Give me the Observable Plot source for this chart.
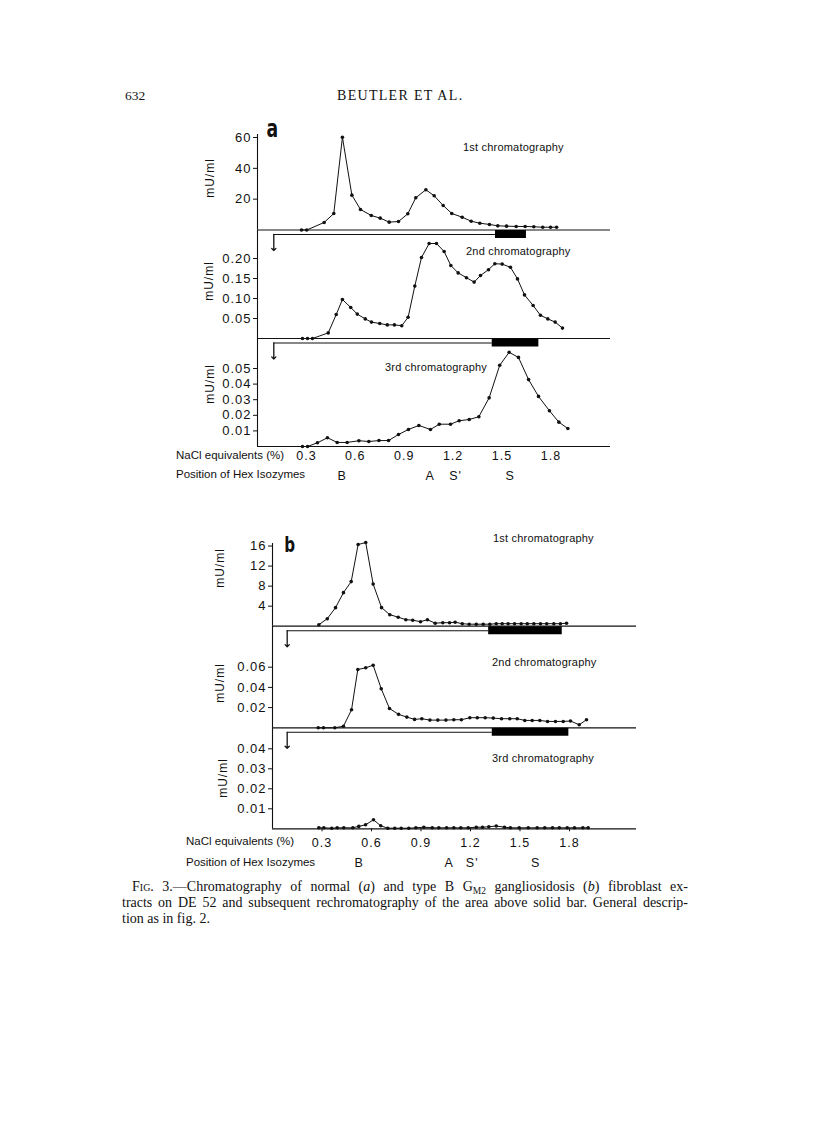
<!DOCTYPE html>
<html><head><meta charset="utf-8">
<script src="https://cdn.jsdelivr.net/npm/d3@7"></script>
<script src="https://cdn.jsdelivr.net/npm/@observablehq/plot@0.6"></script>
<style>
html,body{margin:0;padding:0;background:#fff;}
body{width:816px;height:1122px;position:relative;overflow:hidden;}
.t{position:absolute;white-space:nowrap;line-height:1;color:#111;}
.sans{font-family:"Liberation Sans",Arial,sans-serif;}
.serif{font-family:"Liberation Serif","Times New Roman",serif;}
.cap{position:absolute;left:122px;width:566px;font-family:"Liberation Serif","Times New Roman",serif;font-size:14px;line-height:1;color:#111;white-space:nowrap;text-align:justify;text-align-last:justify;}
#plots svg{position:absolute;left:0;top:0;}
</style></head><body>
<div id="plots"></div>
<script>
// ---------- DATA ----------
// Panel a: normal fibroblasts
const a1_nacl = [0.270,0.302,0.409,0.468,0.521,0.579,0.632,0.698,0.753,0.808,0.865,0.922,0.971,1.033,1.084,1.139,1.192,1.256,1.311,1.364,1.423,1.474,1.528,1.587,1.642,1.695,1.750,1.798,1.835];
const a1_mU   = [0,0,4.9,10.7,60.2,22.6,13.3,9.4,7.7,5.1,5.5,10.5,20.9,26.1,22.2,15.9,10.7,8.3,5.7,4.4,3.6,2.7,2.5,2.3,2.3,2.1,1.8,1.8,1.8];
const a2_nacl = [0.276,0.307,0.337,0.434,0.483,0.521,0.572,0.612,0.661,0.699,0.750,0.796,0.840,0.885,0.924,0.965,1.006,1.053,1.098,1.145,1.186,1.231,1.282,1.329,1.368,1.417,1.456,1.501,1.552,1.595,1.638,1.691,1.736,1.781,1.826,1.871];
const a2_mU   = [0,0,0,0.014,0.060,0.0975,0.0775,0.061,0.049,0.041,0.0375,0.034,0.034,0.032,0.053,0.131,0.2025,0.2375,0.2375,0.2175,0.1825,0.164,0.152,0.141,0.1575,0.172,0.187,0.186,0.178,0.149,0.109,0.0825,0.058,0.049,0.041,0.026];
const a3_nacl = [0.276,0.307,0.368,0.429,0.489,0.550,0.622,0.683,0.745,0.804,0.865,0.926,0.990,1.061,1.115,1.184,1.237,1.299,1.358,1.421,1.486,1.544,1.601,1.663,1.724,1.791,1.849,1.904];
const a3_mU   = [0,0,0.0024,0.0056,0.0026,0.0026,0.0037,0.0032,0.0038,0.0038,0.0077,0.0109,0.0135,0.0109,0.0143,0.0143,0.0165,0.0173,0.0191,0.0312,0.0521,0.0604,0.0571,0.0429,0.0321,0.0229,0.0156,0.0115];
// Panel b: type B GM2 gangliosidosis fibroblasts
const b1_nacl = [0.281,0.332,0.382,0.430,0.477,0.519,0.565,0.610,0.661,0.711,0.762,0.808,0.850,0.897,0.939,0.986,1.032,1.073,1.107,1.150,1.192,1.235,1.277,1.317,1.356,1.392,1.428,1.467,1.507,1.544,1.584,1.624,1.662,1.705,1.745,1.782];
const b1_mU   = [0.3,1.5,3.7,6.7,8.9,16.3,16.7,8.4,3.7,2.3,1.8,1.3,1.2,0.9,1.3,0.6,0.7,0.7,0.8,0.5,0.4,0.4,0.4,0.4,0.5,0.5,0.5,0.5,0.5,0.5,0.5,0.5,0.5,0.5,0.5,0.6];
const b2_nacl = [0.277,0.309,0.378,0.430,0.479,0.517,0.565,0.610,0.659,0.709,0.764,0.814,0.861,0.905,0.954,1.002,1.051,1.099,1.145,1.196,1.241,1.289,1.338,1.388,1.438,1.483,1.529,1.574,1.620,1.667,1.715,1.762,1.806,1.859,1.903];
const b2_mU   = [0,0,0,0.0016,0.0178,0.0577,0.0594,0.062,0.0386,0.0191,0.0133,0.0106,0.0083,0.009,0.0076,0.0076,0.0076,0.008,0.008,0.010,0.010,0.010,0.0096,0.009,0.009,0.009,0.0073,0.0073,0.0073,0.0063,0.0063,0.0063,0.0067,0.003,0.008];
const b3_nacl = [0.281,0.311,0.359,0.392,0.432,0.487,0.523,0.564,0.612,0.656,0.699,0.741,0.780,0.826,0.869,0.917,0.968,1.008,1.055,1.099,1.141,1.186,1.235,1.273,1.311,1.356,1.406,1.442,1.495,1.550,1.604,1.650,1.697,1.738,1.786,1.830,1.881,1.913];
const b3_mU   = [0.0005,0.0005,0.0003,0.0005,0.0005,0.0005,0.0012,0.002,0.0045,0.0015,0.0003,0.0003,0.0003,0.0003,0.0005,0.0008,0.0005,0.0005,0.0005,0.0005,0.0005,0.0005,0.0008,0.0008,0.001,0.0014,0.0008,0.0005,0.0005,0.0005,0.0005,0.0005,0.0005,0.0005,0.0005,0.0005,0.0005,0.0005];

// solid bars (area rechromatographed), NaCl %
const a1_bar = [1.46, 1.65];
const a2_bar = [1.44, 1.726];
const b1_bar = [1.31, 1.756];
const b2_bar = [1.332, 1.796];

// tick values
const a1_ticks = [20, 40, 60];
const a2_ticks = [0.05, 0.10, 0.15, 0.20];
const a3_ticks = [0.01, 0.02, 0.03, 0.04, 0.05];
const b1_ticks = [4, 8, 12, 16];
const b2_ticks = [0.02, 0.04, 0.06];
const b3_ticks = [0.01, 0.02, 0.03, 0.04];
const nacl_ticks = [0.3, 0.6, 0.9, 1.2, 1.5, 1.8];

// isozyme positions (NaCl %)
const iso_labels = ["B", "A", "S'", "S"];
const iso_a = [0.52, 1.06, 1.215, 1.55];
const iso_b = [0.525, 1.07, 1.21, 1.595];

// ---------- LAYOUT ----------
const FONT = '"Liberation Sans", Arial, sans-serif';
const figA = {axis: 257, right: 610, xmax: 2.1656, arrowX: 0.10};
const figB = {axis: 272, right: 636, xmax: 2.206, arrowX: 0.089};

const panels = [
  {fig: figA, nacl: a1_nacl, mU: a1_mU, ticks: a1_ticks, fmt: d3.format("d"),   top: 134,   base: 229.5, ymax: 61.95,   bar: a1_bar},
  {fig: figA, nacl: a2_nacl, mU: a2_mU, ticks: a2_ticks, fmt: d3.format(".2f"), top: 229.5, base: 338,   ymax: 0.27125, bar: a2_bar},
  {fig: figA, nacl: a3_nacl, mU: a3_mU, ticks: a3_ticks, fmt: d3.format(".2f"), top: 338,   base: 446,   ymax: 0.06923, bottom: true, iso: iso_a, isoDy: 29, tickSize: 0, tickPad: 5},
  {fig: figB, nacl: b1_nacl, mU: b1_mU, ticks: b1_ticks, fmt: d3.format("d"),   top: 543,   base: 625.7, ymax: 16.507,  bar: b1_bar},
  {fig: figB, nacl: b2_nacl, mU: b2_mU, ticks: b2_ticks, fmt: d3.format(".2f"), top: 625.7, base: 727.3, ymax: 0.10059, bar: b2_bar},
  {fig: figB, nacl: b3_nacl, mU: b3_mU, ticks: b3_ticks, fmt: d3.format(".2f"), top: 727.3, base: 828.3, ymax: 0.0505,  bottom: true, iso: iso_b, isoDy: 34, tickSize: 3, tickPad: 6}
];

const host = document.getElementById("plots");
for (const p of panels) {
  const rows = p.nacl.map((x, i) => ({x, y: p.mU[i]}));
  const marks = [
    Plot.ruleX([0], {stroke: "#111", strokeWidth: 1.1}),
    Plot.ruleY([0], {stroke: "#111", strokeWidth: 1.2}),
    Plot.axisY({ticks: p.ticks, tickFormat: p.fmt, tickSize: 4, tickPadding: 2, fontSize: 13, label: null, stroke: "#111"}),
    Plot.line(rows, {x: "x", y: "y", stroke: "#111", strokeWidth: 1}),
    Plot.dot(rows, {x: "x", y: "y", r: 1.8, fill: "#111", stroke: "none"})
  ];
  if (p.bar) {
    marks.push(Plot.ruleY([p.bar], {x1: d => d[0], x2: d => d[1], y: 0, dy: 4, stroke: "#000", strokeWidth: 8}));
    marks.push(Plot.ruleY([p.bar], {x1: () => p.fig.arrowX, x2: d => d[0], y: 0, dy: 4.5, stroke: "#111", strokeWidth: 1.1}));
    marks.push(Plot.vector([p.fig.arrowX], {x: d => d, y: 0, dy: 4.5, length: 16, rotate: 180, anchor: "start", r: 2.3, stroke: "#111", strokeWidth: 1.3}));
  }
  if (p.bottom) {
    marks.push(Plot.axisX({ticks: nacl_ticks, tickFormat: d3.format(".1f"), tickSize: p.tickSize, tickPadding: p.tickPad, fontSize: 12.5, label: null, stroke: "#111"}));
    marks.push(Plot.text(iso_labels, {x: (d, i) => p.iso[i], y: 0, dy: p.isoDy, text: d => d, fontSize: 12.5, fill: "#111"}));
  }
  const svg = Plot.plot({
    width: 816, height: 1122,
    marginLeft: p.fig.axis, marginRight: 816 - p.fig.right,
    marginTop: p.top, marginBottom: 1122 - p.base,
    x: {domain: [0, p.fig.xmax], axis: p.bottom ? undefined : null},
    y: {domain: [0, p.ymax]},
    style: {background: "transparent", overflow: "visible", fontFamily: FONT, letterSpacing: "1px", color: "#111"},
    marks
  });
  host.appendChild(svg);
}

// ---------- HTML TEXT ----------
function put(html, x, yc, cls, css = "") {
  const d = document.createElement("div");
  d.className = "t " + cls;
  d.innerHTML = html;
  d.style.cssText = `left:${x}px;top:${yc}px;transform:translateY(-50%);${css}`;
  document.body.appendChild(d);
  return d;
}
function vlabel(x, yc) {
  const d = document.createElement("div");
  d.className = "t sans";
  d.textContent = "mU/ml";
  d.style.cssText = `left:${x}px;top:${yc}px;font-size:12px;letter-spacing:1px;transform:translate(-50%,-50%) rotate(-90deg);`;
  document.body.appendChild(d);
}
put("632", 125, 96, "serif", "font-size:13.5px;");
put("BEUTLER ET AL.", 337, 96, "serif", "font-size:14px;letter-spacing:1.3px;");

put("a", 265, 129, "sans", 'font-size:24px;font-weight:bold;font-family:"DejaVu Sans Condensed","Liberation Sans Narrow",sans-serif;transform:translateY(-50%) scaleX(0.8);');
put("b", 283, 545, "sans", 'font-size:21px;font-weight:bold;font-family:"DejaVu Sans Condensed","Liberation Sans Narrow",sans-serif;transform:translateY(-50%) scaleX(0.8);');

put("1st chromatography", 463, 147, "sans", "font-size:11px;letter-spacing:0.2px;");
put("2nd chromatography", 466, 251, "sans", "font-size:11px;letter-spacing:0.2px;");
put("3rd chromatography", 385, 367, "sans", "font-size:11px;letter-spacing:0.2px;");
put("1st chromatography", 493, 538, "sans", "font-size:11px;letter-spacing:0.2px;");
put("2nd chromatography", 492, 662, "sans", "font-size:11px;letter-spacing:0.2px;");
put("3rd chromatography", 492, 758, "sans", "font-size:11px;letter-spacing:0.2px;");

vlabel(210, 178); vlabel(209, 281); vlabel(210, 384);
vlabel(220, 568); vlabel(220, 683); vlabel(223, 778);

put("NaCl equivalents (%)", 176, 456, "sans", "font-size:11.5px;");
put("Position of Hex Isozymes", 176, 475, "sans", "font-size:11.5px;");
put("NaCl equivalents (%)", 186, 842, "sans", "font-size:11.5px;");
put("Position of Hex Isozymes", 186, 863, "sans", "font-size:11.5px;");

// caption
const cap = [
  {html: 'F<span style="font-variant:small-caps">ig</span>. 3.—Chromatography of normal (<i>a</i>) and type B G<span style="font-size:9.5px;position:relative;top:3px">M2</span> gangliosidosis (<i>b</i>) fibroblast ex-', y: 887, indent: 10, just: true},
  {html: 'tracts on DE 52 and subsequent rechromatography of the area above solid bar. General descrip-', y: 903, indent: 0, just: true},
  {html: 'tion as in fig. 2.', y: 919, indent: 0, just: false}
];
for (const c of cap) {
  const d = document.createElement("div");
  d.className = "cap";
  d.innerHTML = c.html;
  d.style.top = c.y + "px";
  d.style.transform = "translateY(-50%)";
  d.style.left = (122 + c.indent) + "px";
  d.style.width = (566 - c.indent) + "px";
  if (!c.just) { d.style.textAlignLast = "left"; d.style.textAlign = "left"; }
  document.body.appendChild(d);
}
</script>
</body></html>
